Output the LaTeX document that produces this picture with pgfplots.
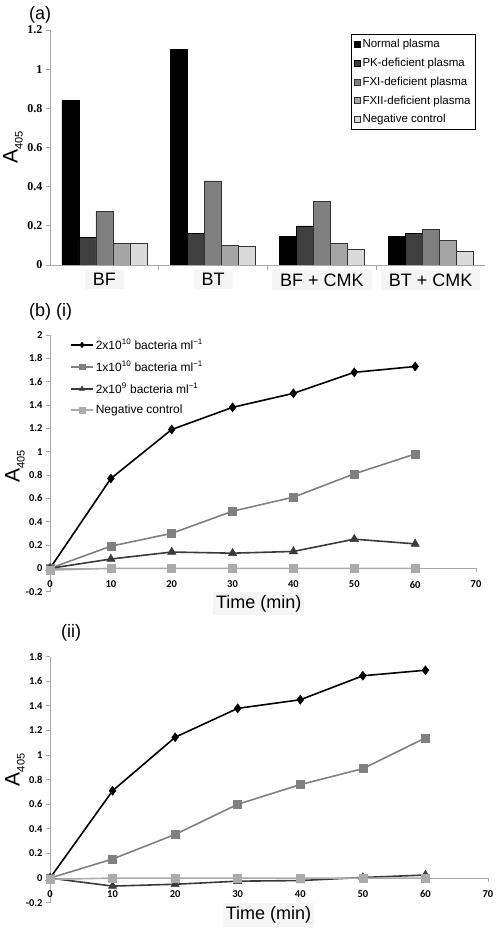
\documentclass[border=0pt]{standalone}
\usepackage{fontspec}
\setmainfont{Liberation Sans}
\newfontfamily\tickserif{Liberation Serif}
\newfontfamily\ticksans{Carlito}
\usepackage{pgfplots}
\pgfplotsset{compat=1.18}

\definecolor{c1}{HTML}{000000}
\definecolor{c2}{HTML}{3F3F3F}
\definecolor{c3}{HTML}{808080}
\definecolor{c4}{HTML}{A5A5A5}
\definecolor{c5}{HTML}{DADADA}
\definecolor{axgray}{HTML}{A8A8A8}
\definecolor{lgray}{HTML}{ABABAB}
\definecolor{mgray}{HTML}{808080}
\definecolor{dgray}{HTML}{3A3A3A}

\newcommand{\Alab}{{\fontsize{21}{21}\selectfont A}\raisebox{-5pt}{\fontsize{11}{11}\selectfont 405}}

\pgfplotsset{
  sqleg/.style={legend image code/.code={\draw[##1, line width=0.5pt] (0pt,-3pt) rectangle (6pt,3pt);}},
  lineaxis/.style={
    scale only axis, anchor=south west,
    xmin=0, xmax=70,
    axis x line=middle, axis y line=left,
    axis line style={draw=axgray, line width=0.8pt, -},
    tick style={draw=axgray, line width=0.8pt},
    hide obscured x ticks=false, hide obscured y ticks=false,
    xtick={0,10,20,30,40,50,60,70},
    tick align=outside, major tick length=4pt,
    ticklabel style={font=\ticksans\bfseries\fontsize{10.5}{10.5}\selectfont},
    xticklabel style={yshift=-5pt},
    /pgf/number format/assume math mode=true,
    ylabel={\Alab},
    xlabel={Time (min)},
    xlabel style={anchor=center, font=\fontsize{18}{18}\selectfont, fill=black!4, inner xsep=3pt},
    legend cell align=left,
    legend image code/.code={\draw[mark repeat=2,mark phase=2,##1, mark size=2.8pt] plot coordinates {(0pt,0pt) (11pt,0pt) (22pt,0pt)};},
  },
  s1/.style={black, line width=1.6pt, mark=diamond*, mark size=4.5pt, mark options={line width=0.5pt}},
  s2/.style={mgray, line width=1.6pt, mark=square*, mark size=4pt, mark options={line width=0.5pt}},
  s3/.style={dgray, line width=1.6pt, mark=triangle*, mark size=4.8pt, mark options={line width=0.5pt}},
  s4/.style={lgray, line width=1.6pt, mark=square*, mark size=4pt, mark options={line width=0.5pt}},
}

\begin{document}
\begin{tikzpicture}[x=1pt,y=1pt]
\useasboundingbox (0,0) rectangle (496,930);

% ---------------- (a)
\begin{axis}[at={(50pt,665pt)}, anchor=south west, scale only axis, width=435pt, height=235pt,
  xmin=0, xmax=4, ymin=0, ymax=1.2,
  ybar=0pt, bar width=17pt,
  axis x line*=bottom, axis y line*=left,
  axis line style={draw=axgray, line width=0.8pt, -},
  tick style={draw=axgray, line width=0.8pt},
  tick align=outside, major tick length=4pt, minor tick length=5pt,
  xtick={0.5,1.5,2.5,3.5}, xticklabels={BF,BT,BF + CMK,BT + CMK},
  minor xtick={1,2,3},
  major x tick style={draw=none},
  xticklabel style={font=\fontsize{18}{18}\selectfont, fill=black!4, inner xsep=8pt, yshift=-1pt},
  ytick={0,0.2,0.4,0.6,0.8,1,1.2},
  yticklabel style={font=\tickserif\bfseries\fontsize{12}{12}\selectfont},
  /pgf/number format/assume math mode=true,
  ylabel={\Alab}, ylabel style={at={(rel axis cs:-0.085,0.5)}, anchor=center},
  legend style={at={(rel axis cs:0.979,0.983)}, anchor=north east, draw=black, line width=0.6pt,
    font=\fontsize{11.5}{13}\selectfont, row sep=5pt, inner sep=3pt},
  legend cell align=left,
]
\addplot[sqleg, fill=c1, draw=black, line width=0.5pt] coordinates {(0.5,0.84) (1.5,1.10) (2.5,0.145) (3.5,0.145)};
\addplot[sqleg, fill=c2, draw=black, line width=0.5pt] coordinates {(0.5,0.14) (1.5,0.16) (2.5,0.20) (3.5,0.16)};
\addplot[sqleg, fill=c3, draw=black!80, line width=0.5pt] coordinates {(0.5,0.275) (1.5,0.43) (2.5,0.325) (3.5,0.18)};
\addplot[sqleg, fill=c4, draw=black!80, line width=0.5pt] coordinates {(0.5,0.11) (1.5,0.10) (2.5,0.11) (3.5,0.125)};
\addplot[sqleg, fill=c5, draw=black!80, line width=0.5pt] coordinates {(0.5,0.11) (1.5,0.095) (2.5,0.08) (3.5,0.07)};
\legend{Normal plasma, PK-deficient plasma, FXI-deficient plasma, FXII-deficient plasma, Negative control}
\end{axis}

% ---------------- (b)(i)
\begin{axis}[lineaxis, at={(50pt,338.3pt)}, width=426pt, height=256.7pt,
  ymin=-0.2, ymax=2,
  ytick={-0.2,0,0.2,0.4,0.6,0.8,1,1.2,1.4,1.6,1.8,2},
  ylabel style={at={(rel axis cs:-0.082,0.487)}, anchor=center},
  xlabel style={at={(rel axis cs:0.49,-0.046)}},
  legend style={at={(rel axis cs:0.047,0.992)}, anchor=north west, draw=none, fill=none,
    font=\fontsize{12}{12}\selectfont, row sep=6.5pt, inner sep=0pt},
]
\addplot[s1] coordinates {(0,0) (10,0.77) (20,1.19) (30,1.38) (40,1.50) (50,1.68) (60,1.73)};
\addplot[s2] coordinates {(0,0) (10,0.19) (20,0.30) (30,0.49) (40,0.61) (50,0.81) (60,0.98)};
\addplot[s3] coordinates {(0,0) (10,0.08) (20,0.14) (30,0.13) (40,0.145) (50,0.25) (60,0.21)};
\addplot[s4] coordinates {(0,-0.015) (10,0) (20,0) (30,0) (40,0) (50,0) (60,0)};
\legend{2x10\textsuperscript{10} bacteria ml\textsuperscript{−1},
        1x10\textsuperscript{10} bacteria ml\textsuperscript{−1},
        2x10\textsuperscript{9} bacteria ml\textsuperscript{−1},
        Negative control}
\end{axis}

% ---------------- (ii)
\begin{axis}[lineaxis, at={(50pt,27.3pt)}, width=438pt, height=246pt,
  ymin=-0.2, ymax=1.8,
  ytick={-0.2,0,0.2,0.4,0.6,0.8,1,1.2,1.4,1.6,1.8},
  ylabel style={at={(rel axis cs:-0.08,0.54)}, anchor=center},
  xlabel style={at={(rel axis cs:0.499,-0.05)}},
]
\addplot[s1] coordinates {(0,0) (10,0.71) (20,1.145) (30,1.38) (40,1.45) (50,1.645) (60,1.69)};
\addplot[s2] coordinates {(0,0) (10,0.155) (20,0.355) (30,0.60) (40,0.76) (50,0.89) (60,1.14)};
\addplot[s3] coordinates {(0,0) (10,-0.065) (20,-0.05) (30,-0.025) (40,-0.02) (50,0.005) (60,0.025)};
\addplot[s4] coordinates {(0,-0.01) (10,0) (20,0) (30,0) (40,0) (50,0) (60,0)};
\end{axis}

\node[anchor=west, inner sep=0pt, font=\fontsize{18}{18}\selectfont] at (29,915) {(a)};
\node[anchor=west, inner sep=0pt, font=\fontsize{18}{18}\selectfont] at (29,618) {(b) (i)};
\node[anchor=west, inner sep=0pt, font=\fontsize{18}{18}\selectfont] at (61,297.5) {(ii)};
\end{tikzpicture}
\end{document}
